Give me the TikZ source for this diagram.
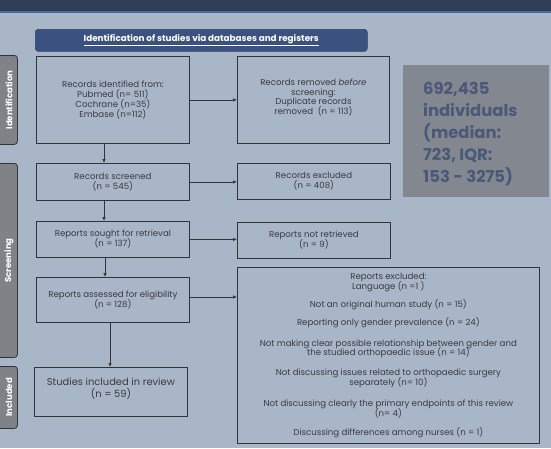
\documentclass[tikz,border=0pt]{standalone}
\usepackage{fontspec}
\setmainfont{Poppins}
\usetikzlibrary{arrows.meta,calc}
\newcommand\mytightls{\lineskiplimit-8pt\relax}
\definecolor{bgc}{HTML}{A9B6C8}
\definecolor{topc}{HTML}{2F3D57}
\definecolor{linec}{HTML}{4C6A9C}
\definecolor{headc}{HTML}{3B5180}
\definecolor{tabc}{HTML}{7F8287}
\definecolor{statc}{HTML}{83878F}
\definecolor{stattxt}{HTML}{4B5877}
\definecolor{txtc}{HTML}{3A3A3E}
\definecolor{brd}{HTML}{333438}
\tikzset{
  box/.style={draw=brd, line width=0.8pt, anchor=north west, inner sep=0pt, align=center, text=txtc, font={\fontsize{8.6}{10}\selectfont\mytightls}},
  sidetab/.style={draw=brd, fill=tabc, rounded corners=3pt, line width=0.8pt, anchor=north west, inner sep=0pt},
  tabtxt/.style={text=white, font=\bfseries\fontsize{8.5}{9}\selectfont, rotate=90},
  arr/.style={draw=brd, line width=0.7pt, -{Latex[length=4pt,width=3.5pt]}}
}
\begin{document}
\begin{tikzpicture}[x=1pt,y=-1pt]
\useasboundingbox (0,0) rectangle (551,448);
\fill[bgc] (0,0) rectangle (551,448);
\fill[topc] (0,0) rectangle (551,10.5);
\fill[linec] (0,10.5) rectangle (551,12.5);
% header
\node[draw=headc!80!black, fill=headc, rounded corners=3pt, anchor=north west, minimum width=332pt, minimum height=22pt, inner sep=0pt, line width=0.6pt] (head) at (35,29) {};
\node[text=white, font=\bfseries\fontsize{8.8}{10}\selectfont] (headtxt) at (head.center) {\underline{Identification of studies via databases and registers}};
% side tabs
\node[sidetab, minimum width=20pt, minimum height=89pt] (t1) at (-3,55) {};
\node[tabtxt] (t1t) at ($(t1.center)+(1.5,0)$) {Identification};
\node[sidetab, minimum width=20pt, minimum height=194pt] (t2) at (-3,163) {};
\node[tabtxt] (t2t) at ($(t2.center)+(1.5,0)$) {Screening};
\node[sidetab, minimum width=20pt, minimum height=62pt] (t3) at (-3,366) {};
\node[tabtxt] (t3t) at ($(t3.center)+(1.5,0)$) {Included};
% left boxes
\node[box, minimum width=153pt, minimum height=87pt] (b1) at (36,56) {Records identified from:\\Pubmed (n= 511)\\Cochrane (n=35)\\Embase (n=112)};
\node[box, minimum width=153pt, minimum height=37pt] (b2) at (36,163) {Records screened\\(n = 545)};
\node[box, minimum width=153pt, minimum height=36pt] (b3) at (36,221) {Reports sought for retrieval\\(n = 137)};
\node[box, minimum width=153pt, minimum height=45pt] (b4) at (36,277) {Reports assessed for eligibility\\(n = 128)};
\node[box, minimum width=153pt, minimum height=49pt, font={\fontsize{9.9}{11.5}\selectfont\mytightls}] (b5) at (34,367) {Studies included in review\\(n = 59)\\[-3.5pt]};
% right boxes
\node[box, minimum width=152pt, minimum height=87pt, font={\fontsize{8.6}{9.5}\selectfont\mytightls}] (r1) at (237,56) {Records removed \textit{before}\\screening:\\Duplicate records\\removed\ \ (n = 113)\\[-3pt]};
\node[box, minimum width=153pt, minimum height=36pt] (r2) at (237,163) {Records excluded\\(n = 408)};
\node[box, minimum width=153pt, minimum height=36pt] (r3) at (237,222) {Reports not retrieved\\(n = 9)};
\node[box, minimum width=302pt, minimum height=176pt, font={\fontsize{8.6}{9.5}\selectfont\mytightls}] (r4) at (237,267) {Reports excluded:\\Language (n =1 )\\[9pt]Not an original human study (n = 15)\\[8.5pt]Reporting only gender prevalence (n = 24)\\[11pt]Not making clear possible relationship between gender and\\the studied orthopaedic issue (n = 14)\\[10.5pt]Not discussing issues related to orthopaedic surgery\\separately (n= 10)\\[12pt]Not discussing clearly the primary endpoints of this review\\(n= 4)\\[9.5pt]Discussing differences among nurses (n = 1)};
% stats box
\node[fill=statc, anchor=north west, minimum width=146pt, minimum height=132pt, inner sep=0pt] (st) at (403,65) {};
\node[anchor=north west, align=left, text=stattxt, font={\bfseries\fontsize{16.4}{22}\selectfont\mytightls}, inner sep=0pt] (sttxt) at (423,82) {692,435\\individuals\\(median:\\723, IQR:\\153 - 3275)};
% arrows
\coordinate (c1) at (104,0);
\coordinate (c2) at (105,0);
\coordinate (c3) at (110,0);
\draw[arr] (c1 |- b1.south) -- (c1 |- b2.north);
\draw[arr] (c1 |- b2.south) -- (c1 |- b3.north);
\draw[arr] (c2 |- b3.south) -- (c2 |- b4.north);
\draw[arr] (c3 |- b4.south) -- (c3 |- b5.north);
\draw[arr] (b1.east) -- (b1.east -| r1.west);
\draw[arr] (b2.east) -- (b2.east -| r2.west);
\draw[arr] (b3.east) -- (b3.east -| r3.west);
\coordinate (c4) at (0,297);
\draw[arr] (c4 -| b4.east) -- (c4 -| r4.west);
\end{tikzpicture}
\end{document}
